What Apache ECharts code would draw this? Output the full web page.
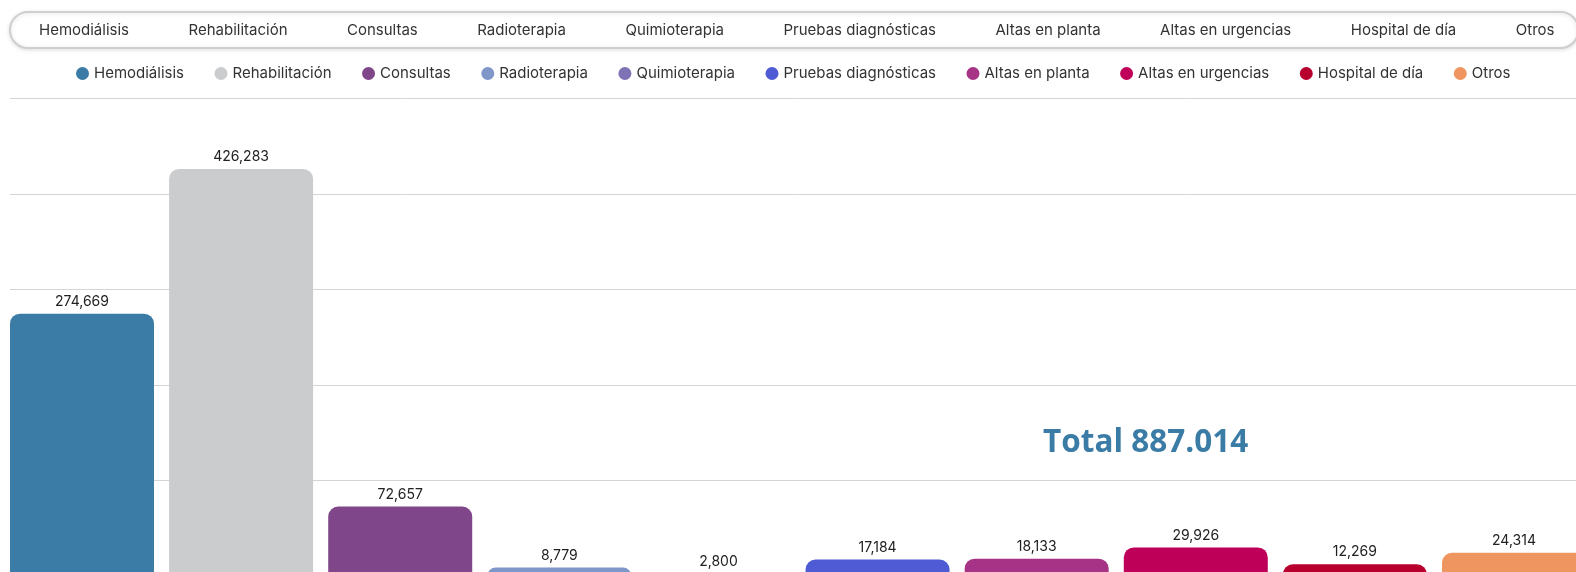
<!DOCTYPE html>
<html>
<head>
<meta charset="utf-8">
<script src="https://cdn.jsdelivr.net/npm/echarts@6/dist/echarts.min.js"></script>
<style>html,body{margin:0;padding:0;background:#fff;}#c{width:1576px;height:572px;}</style>
</head>
<body>
<div id="c"></div>
<script>
const categories = ['Hemodiálisis','Rehabilitación','Consultas','Radioterapia','Quimioterapia','Pruebas diagnósticas','Altas en planta','Altas en urgencias','Hospital de día','Otros'];
const values = [274669, 426283, 72657, 8779, 2800, 17184, 18133, 29926, 12269, 24314];
const colors = ['#3b7ca6','#cbcccd','#7f4689','#7f96c8','#7f72b5','#4f5bd5','#a63385','#be0059','#b8002f','#ef9660'];
const totalText = 'Total 887.014';
const yTicks = [0, 100000, 200000, 300000, 400000, 500000];

const FONT = 'Inter';
const chart = echarts.init(document.getElementById('c'));
const series = categories.map((name, i) => ({
  name: name,
  type: 'bar',
  data: [values[i]],
  barGap: '10.5%',
  barCategoryGap: '0%',
  itemStyle: { color: colors[i], borderRadius: [10, 10, 0, 0] },
  label: {
    show: true, position: 'top', distance: 5,
    color: '#222', fontSize: 14, fontFamily: FONT,
    formatter: p => Number(p.value).toLocaleString('en-US')
  }
}));

chart.setOption({
  animation: false,
  color: colors,
  legend: [
    {
      data: categories, top: 12, left: 10, width: 1800,
      padding: [10.5, 24, 10.5, 24],
      icon: 'rect', itemWidth: 0, itemHeight: 0, itemGap: 54.5,
      borderColor: '#cfcfcf', borderWidth: 2, borderRadius: 18,
      backgroundColor: '#fff',
      shadowColor: 'rgba(0,0,0,0.12)', shadowBlur: 4, shadowOffsetX: 0, shadowOffsetY: 1,
      textStyle: { color: '#333', fontSize: 15, fontFamily: FONT },
      selectedMode: false
    },
    {
      data: categories, top: 61, left: 71,
      icon: 'circle', itemWidth: 13, itemHeight: 13, itemGap: 30.5,
      textStyle: { color: '#333', fontSize: 15, fontFamily: FONT }
    }
  ],
  grid: { left: 10, right: -10, top: 98.5, bottom: -4, containLabel: false, outerBoundsMode: 'none' },
  xAxis: {
    type: 'category', data: [''],
    axisLine: { show: false }, axisTick: { show: false }, axisLabel: { show: false }
  },
  yAxis: {
    type: 'value', min: yTicks[0], max: yTicks[yTicks.length - 1], interval: yTicks[1] - yTicks[0],
    axisLabel: { show: false }, axisLine: { show: false }, axisTick: { show: false },
    splitLine: { lineStyle: { color: '#d4d4d4', width: 1 } }
  },
  graphic: [{
    type: 'text', left: 1043, top: 427, z: 100,
    style: { text: totalText, fill: '#3b7ca6', font: 'bold 31.5px "Open Sans"' }
  }],
  series: series
});
</script>
</body>
</html>
